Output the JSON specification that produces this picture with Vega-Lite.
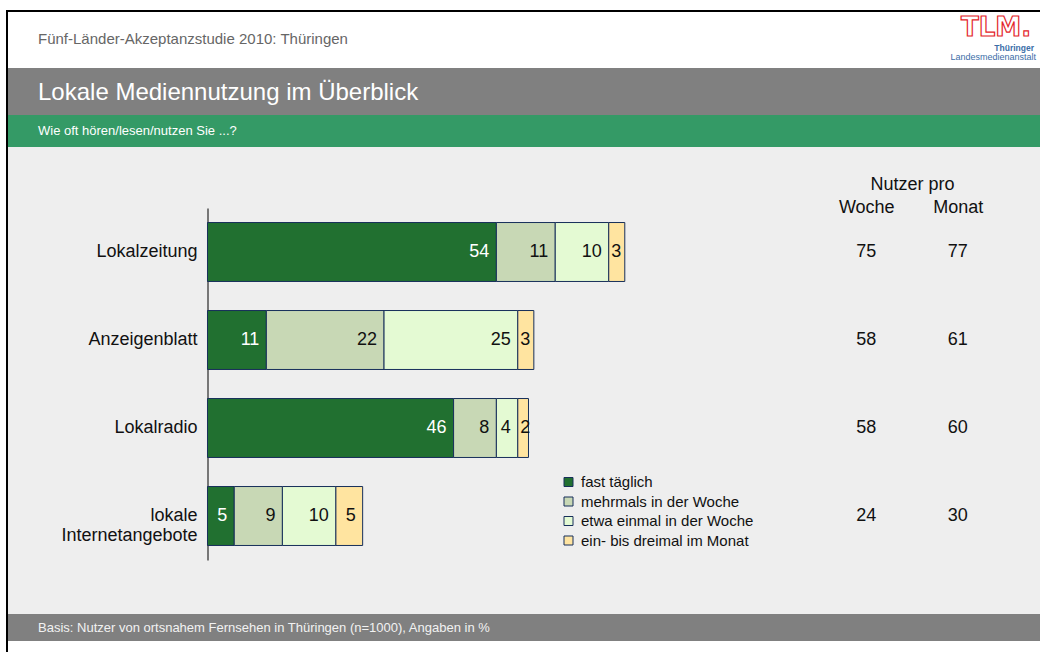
{
  "$schema": "https://vega.github.io/schema/vega-lite/v6.json",
  "padding": {"left": 6, "top": 10, "right": 0, "bottom": 0},
  "background": "#FFFFFF",
  "spacing": 0,
  "config": {
    "view": {"stroke": null},
    "font": "Liberation Sans",
    "concat": {"spacing": 0},
    "title": {"fontWeight": "normal", "font": "Liberation Sans", "anchor": "start", "frame": "group"}
  },
  "datasets": {
    "usage": [
      {"medium": "Lokalzeitung", "cat": "fast täglich", "order": 1, "value": 54},
      {"medium": "Lokalzeitung", "cat": "mehrmals in der Woche", "order": 2, "value": 11},
      {"medium": "Lokalzeitung", "cat": "etwa einmal in der Woche", "order": 3, "value": 10},
      {"medium": "Lokalzeitung", "cat": "ein- bis dreimal im Monat", "order": 4, "value": 3},
      {"medium": "Anzeigenblatt", "cat": "fast täglich", "order": 1, "value": 11},
      {"medium": "Anzeigenblatt", "cat": "mehrmals in der Woche", "order": 2, "value": 22},
      {"medium": "Anzeigenblatt", "cat": "etwa einmal in der Woche", "order": 3, "value": 25},
      {"medium": "Anzeigenblatt", "cat": "ein- bis dreimal im Monat", "order": 4, "value": 3},
      {"medium": "Lokalradio", "cat": "fast täglich", "order": 1, "value": 46},
      {"medium": "Lokalradio", "cat": "mehrmals in der Woche", "order": 2, "value": 8},
      {"medium": "Lokalradio", "cat": "etwa einmal in der Woche", "order": 3, "value": 4},
      {"medium": "Lokalradio", "cat": "ein- bis dreimal im Monat", "order": 4, "value": 2},
      {"medium": "lokale Internetangebote", "cat": "fast täglich", "order": 1, "value": 5},
      {"medium": "lokale Internetangebote", "cat": "mehrmals in der Woche", "order": 2, "value": 9},
      {"medium": "lokale Internetangebote", "cat": "etwa einmal in der Woche", "order": 3, "value": 10},
      {"medium": "lokale Internetangebote", "cat": "ein- bis dreimal im Monat", "order": 4, "value": 5}
    ],
    "users": [
      {"medium": "Lokalzeitung", "period": "Woche", "users": 75},
      {"medium": "Lokalzeitung", "period": "Monat", "users": 77},
      {"medium": "Anzeigenblatt", "period": "Woche", "users": 58},
      {"medium": "Anzeigenblatt", "period": "Monat", "users": 61},
      {"medium": "Lokalradio", "period": "Woche", "users": 58},
      {"medium": "Lokalradio", "period": "Monat", "users": 60},
      {"medium": "lokale Internetangebote", "period": "Woche", "users": 24},
      {"medium": "lokale Internetangebote", "period": "Monat", "users": 30}
    ]
  },
  "vconcat": [
    {"width": 1034, "height": 2, "view": {"fill": "#000000", "stroke": null}, "data": {"values": []}, "mark": "point"},
    {
      "spacing": 0,
      "hconcat": [
        {"width": 2, "height": 640, "view": {"fill": "#000000", "stroke": null}, "data": {"values": []}, "mark": "point"},
        {
          "spacing": 0,
          "vconcat": [
            {
              "spacing": 0,
              "hconcat": [
                {
                  "width": 942, "height": 56, "view": {"fill": "#FFFFFF", "stroke": null},
                  "data": {"values": []}, "mark": "point",
                  "title": {"text": "Fünf-Länder-Akzeptanzstudie 2010: Thüringen", "fontSize": 15, "color": "#666666", "offset": -34.5, "dx": 30}
                },
                {
                  "width": 90, "height": 56, "view": {"fill": "#FFFFFF", "stroke": null},
                  "layer": [
                    {
                      "data": {"values": [{"label": "TLM."}]},
                      "mark": {"type": "text", "font": "DejaVu Sans", "fontWeight": "bold", "fontSize": 26, "fill": "#FFFFFF", "stroke": "#E3262B", "strokeWidth": 1.2, "dx": -2, "dy": -12.5, "baseline": "middle", "align": "center"},
                      "encoding": {"text": {"field": "label"}}
                    },
                    {
                      "data": {"values": [{"label": "Thüringer"}]},
                      "mark": {"type": "text", "fontSize": 8.5, "fontWeight": "bold", "color": "#3B6EA8", "align": "right", "dx": 36, "dy": 7.5, "baseline": "middle"},
                      "encoding": {"text": {"field": "label"}}
                    },
                    {
                      "data": {"values": [{"label": "Landesmedienanstalt"}]},
                      "mark": {"type": "text", "fontSize": 9, "color": "#3B6EA8", "align": "right", "dx": 38, "dy": 16.5, "baseline": "middle"},
                      "encoding": {"text": {"field": "label"}}
                    }
                  ]
                }
              ]
            },
            {
              "width": 1032, "height": 47, "view": {"fill": "#808080", "stroke": null},
              "data": {"values": []}, "mark": "point",
              "title": {"text": "Lokale Mediennutzung im Überblick", "fontSize": 24, "color": "#FFFFFF", "offset": -37, "dx": 30}
            },
            {
              "width": 1032, "height": 32, "view": {"fill": "#349A66", "stroke": null},
              "data": {"values": []}, "mark": "point",
              "title": {"text": "Wie oft hören/lesen/nutzen Sie ...?", "fontSize": 13, "color": "#FFFFFF", "offset": -22.5, "dx": 30}
            },
            {
              "spacing": 0,
              "hconcat": [
                {
                  "width": 776, "height": 467, "view": {"fill": "#EEEEEE", "stroke": null},
                  "data": {"name": "usage"},
                  "transform": [{"stack": "value", "groupby": ["medium"], "sort": [{"field": "order", "order": "ascending"}], "as": ["x0", "x1"]}],
                  "encoding": {
                    "y": {
                      "field": "medium", "type": "nominal",
                      "sort": ["Lokalzeitung", "Anzeigenblatt", "Lokalradio", "lokale Internetangebote"],
                      "scale": {"range": [61, 413], "paddingInner": 0.33, "paddingOuter": 0.165},
                      "axis": {
                        "orient": "left", "offset": -199.5, "title": null,
                        "domainColor": "#000000", "domainWidth": 1, "ticks": false, "tickSize": 0,
                        "labelFontSize": 18, "labelColor": "#111111", "labelPadding": 10.5, "labelLimit": 300,
                        "labelExpr": "datum.value == 'lokale Internetangebote' ? ['lokale', 'Internetangebote'] : datum.value",
                        "labelLineHeight": 20,
                        "encode": {"labels": {"update": {
                          "align": {"signal": "datum.value == 'lokale Internetangebote' ? 'center' : 'right'"},
                          "dx": {"signal": "datum.value == 'lokale Internetangebote' ? -69 : 0"}
                        }}}
                      }
                    }
                  },
                  "layer": [
                    {
                      "mark": {"type": "bar", "stroke": "#172F5A", "strokeWidth": 1},
                      "encoding": {
                        "x": {"field": "x0", "type": "quantitative", "scale": {"domain": [-37.29, 107.76], "nice": false, "zero": false}, "axis": null},
                        "x2": {"field": "x1"},
                        "color": {
                          "field": "cat", "type": "nominal",
                          "sort": ["fast täglich", "mehrmals in der Woche", "etwa einmal in der Woche", "ein- bis dreimal im Monat"],
                          "scale": {
                            "domain": ["fast täglich", "mehrmals in der Woche", "etwa einmal in der Woche", "ein- bis dreimal im Monat"],
                            "range": ["#217030", "#C8D8B5", "#E4FAD3", "#FFE4A0"]
                          },
                          "legend": {
                            "title": null, "orient": "none", "legendX": 555, "legendY": 464.5,
                            "symbolType": "square", "symbolSize": 81, "symbolStrokeColor": "#172F5A", "symbolStrokeWidth": 1, "symbolOpacity": 1,
                            "labelFontSize": 15, "labelColor": "#111111", "labelLimit": 400, "rowPadding": 3.5, "labelOffset": 5, "padding": 0
                          }
                        }
                      }
                    },
                    {
                      "transform": [{"filter": "datum.value > 3"}],
                      "mark": {"type": "text", "align": "right", "baseline": "middle", "dx": -7, "fontSize": 18},
                      "encoding": {
                        "x": {"field": "x1", "type": "quantitative"},
                        "text": {"field": "value", "type": "quantitative"},
                        "color": {"condition": {"test": "datum.cat == 'fast täglich'", "value": "#FFFFFF"}, "value": "#111111"}
                      }
                    },
                    {
                      "transform": [{"filter": "datum.value <= 3"}],
                      "mark": {"type": "text", "align": "left", "baseline": "middle", "dx": 2.5, "fontSize": 18, "color": "#111111"},
                      "encoding": {
                        "x": {"field": "x0", "type": "quantitative"},
                        "text": {"field": "value", "type": "quantitative"}
                      }
                    }
                  ]
                },
                {
                  "width": 256, "height": 467, "view": {"fill": "#EEEEEE", "stroke": null},
                  "data": {"name": "users"},
                  "mark": {"type": "text", "fontSize": 18, "color": "#111111", "baseline": "middle"},
                  "encoding": {
                    "x": {
                      "field": "period", "type": "nominal", "sort": ["Woche", "Monat"],
                      "scale": {"type": "point", "padding": 0.899},
                      "axis": {
                        "orient": "top", "offset": -60.5, "title": "Nutzer pro", "labelAngle": 0,
                        "domain": false, "ticks": false, "tickSize": 0, "labelPadding": 0, "labelBaseline": "middle",
                        "labelFontSize": 18, "labelColor": "#111111",
                        "titleFontSize": 18, "titleFontWeight": "normal", "titleColor": "#111111",
                        "titleY": -23.5, "titleBaseline": "middle"
                      }
                    },
                    "y": {
                      "field": "medium", "type": "nominal",
                      "sort": ["Lokalzeitung", "Anzeigenblatt", "Lokalradio", "lokale Internetangebote"],
                      "scale": {"range": [61, 413], "paddingInner": 0.33, "paddingOuter": 0.165},
                      "axis": null
                    },
                    "text": {"field": "users", "type": "quantitative"}
                  }
                }
              ]
            },
            {
              "width": 1032, "height": 27, "view": {"fill": "#808080", "stroke": null},
              "data": {"values": []}, "mark": "point",
              "title": {"text": "Basis: Nutzer von ortsnahem Fernsehen in Thüringen (n=1000), Angaben in %", "fontSize": 13, "color": "#F2F2F2", "offset": -20.5, "dx": 30}
            },
            {
              "width": 1032, "height": 11, "view": {"fill": "#FFFFFF", "stroke": null},
              "data": {"values": []}, "mark": "point"
            }
          ]
        }
      ]
    }
  ]
}
